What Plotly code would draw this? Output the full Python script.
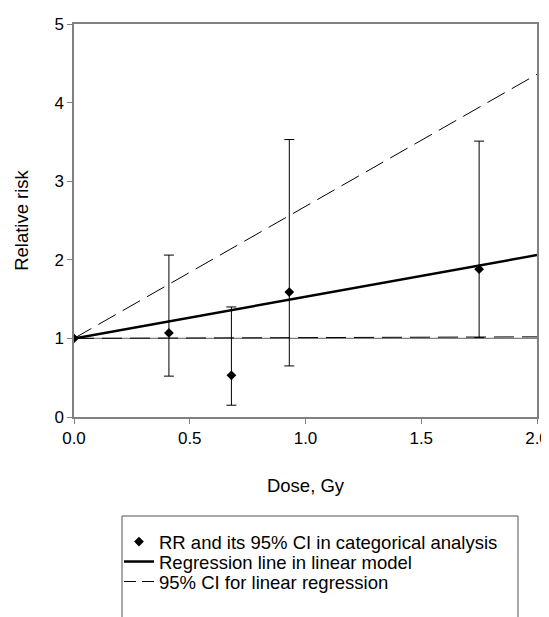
import plotly.graph_objects as go

# Categorical analysis points
dose = [0.0, 0.41, 0.68, 0.93, 1.75]
rr = [1.0, 1.07, 0.53, 1.59, 1.88]
ci_low = [1.0, 0.52, 0.15, 0.65, 1.01]
ci_high = [1.0, 2.06, 1.40, 3.53, 3.51]

# Linear model
line_dose = [0.0, 2.0]
fit_rr = [1.0, 2.06]
fit_upper = [1.0, 4.36]
fit_lower = [1.0, 1.02]
ref_rr = [1.0, 1.0]

x_ticks = [0.0, 0.5, 1.0, 1.5, 2.0]
x_tick_text = ["0.0", "0.5", "1.0", "1.5", "2.0"]
y_ticks = [0, 1, 2, 3, 4, 5]

FONT = "Liberation Sans, Arial, sans-serif"
OFF = 8  # page body margin
W, H = 549 - OFF, 617 - OFF
L, R, T, B = 74 - OFF, 537 - OFF, 24 - OFF, 417 - OFF
PW, PH = R - L, B - T


def px(x):
    return (x - OFF - L) / PW


def py(y):
    return (B - (y - OFF)) / PH


fig = go.Figure()

fig.add_trace(go.Scatter(x=line_dose, y=ref_rr, mode="lines",
                         line=dict(color="#808080", width=1.2),
                         showlegend=False, hoverinfo="skip"))

fig.add_trace(go.Scatter(x=line_dose, y=fit_lower, mode="lines",
                         line=dict(color="black", width=1, dash="20px,8px"),
                         showlegend=False))

fig.add_trace(go.Scatter(x=line_dose, y=fit_upper, mode="lines",
                         line=dict(color="black", width=1, dash="20px,8px"),
                         showlegend=False))

# legend entry for the CI lines
fig.add_trace(go.Scatter(x=[None], y=[None], mode="lines",
                         line=dict(color="black", width=1, dash="12px,6px"),
                         name="95% CI for linear regression", legend="legend3"))

fig.add_trace(go.Scatter(x=line_dose, y=fit_rr, mode="lines",
                         line=dict(color="black", width=2.5),
                         name="Regression line in linear model", legend="legend2"))

fig.add_trace(go.Scatter(
    x=dose, y=rr, mode="markers",
    marker=dict(symbol="diamond", size=7.5, color="black"),
    error_y=dict(type="data", symmetric=False,
                 array=[h - v for h, v in zip(ci_high, rr)],
                 arrayminus=[v - l for v, l in zip(rr, ci_low)],
                 color="black", thickness=1, width=5),
    name="RR and its 95% CI in categorical analysis", legend="legend"))

axis_common = dict(showline=True, linecolor="#808080", linewidth=1.5, mirror=True,
                   ticks="outside", ticklen=5, tickcolor="#808080",
                   showgrid=False, zeroline=False, automargin=False,
                   tickfont=dict(family=FONT, size=17, color="black"))

leg_common = dict(xanchor="left", yanchor="middle", bgcolor="rgba(0,0,0,0)",
                  borderwidth=0, font=dict(family=FONT, size=18.5, color="black"),
                  itemwidth=30)

fig.update_layout(
    width=W, height=H,
    margin=dict(l=L, r=W - R, t=T, b=H - B, autoexpand=False),
    paper_bgcolor="white", plot_bgcolor="white",
    font=dict(family=FONT, size=17, color="black"),
    xaxis=dict(range=[0, 2.0], tickvals=x_ticks, ticktext=x_tick_text,
               title=dict(text="Dose, Gy", font=dict(family=FONT, size=18.5), standoff=32),
               **axis_common),
    yaxis=dict(range=[0, 5], tickvals=y_ticks,
               title=dict(text="Relative risk", font=dict(family=FONT, size=18.5), standoff=21),
               **axis_common),
    legend=dict(x=px(119), y=py(542), **leg_common),
    legend2=dict(x=px(119), y=py(562), **leg_common),
    legend3=dict(x=px(119), y=py(582), **leg_common),
    shapes=[dict(type="rect", xref="paper", yref="paper",
                 x0=px(122), x1=px(518), y0=py(640), y1=py(516),
                 line=dict(color="#505050", width=1))],
    showlegend=True,
)

fig.write_html("out.html")
